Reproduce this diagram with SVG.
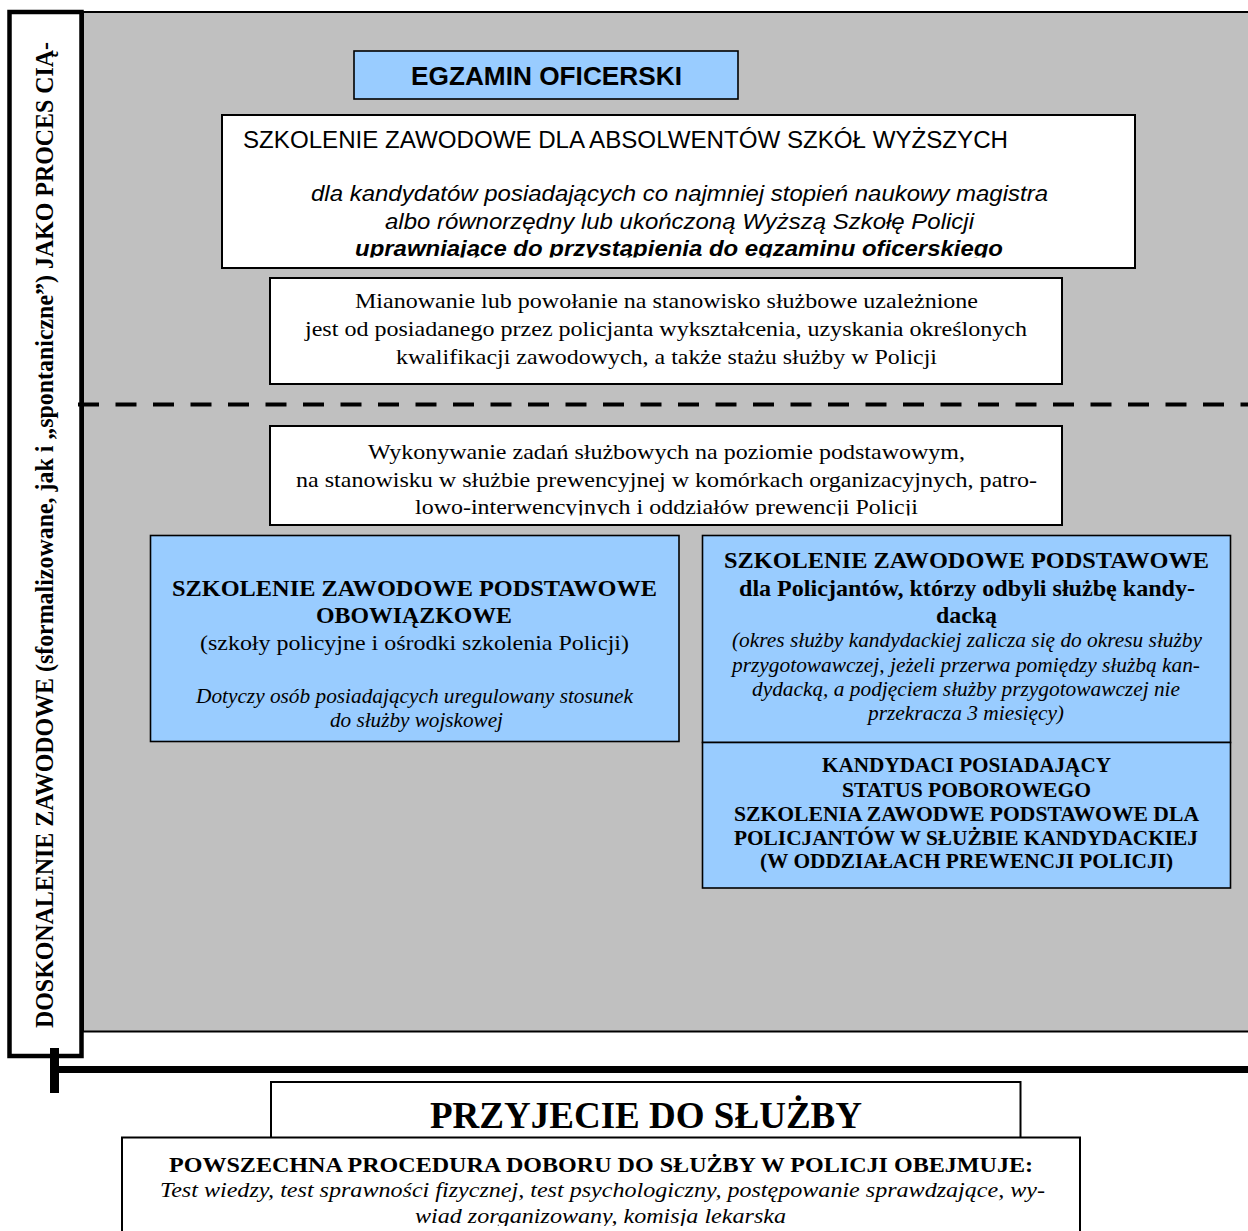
<svg xmlns="http://www.w3.org/2000/svg" width="1248" height="1231" viewBox="0 0 1248 1231">
<style>
.ar{font-family:"Liberation Sans",Arial,sans-serif;fill:#000}
.tm{font-family:"Liberation Serif","Times New Roman",serif;fill:#000}
.b{font-weight:bold}
.i{font-style:italic}
.wbox{fill:#fff;stroke:#000;stroke-width:2}
.bbox{fill:#99CCFF;stroke:#000;stroke-width:1.6}
.c{text-anchor:middle}
</style>
<defs>
<clipPath id="clipTop"><rect x="222" y="115" width="913" height="142.5"/></clipPath>
<clipPath id="clipWyk"><rect x="270" y="426" width="792" height="89.5"/></clipPath>
<clipPath id="clipLow"><rect x="122" y="1137" width="958" height="89"/></clipPath>
</defs>
<rect width="1248" height="1231" fill="#fff"/>
<g id="background">
<rect x="83" y="12" width="1175" height="1019.5" fill="#C0C0C0" stroke="#000" stroke-width="2"/>
</g>
<g id="vertical-label">
<rect x="9.5" y="12" width="72" height="1044" fill="#fff" stroke="#000" stroke-width="4.5"/>
<text class="tm b" font-size="24.5" transform="translate(53,1028) rotate(-90)" textLength="986" lengthAdjust="spacingAndGlyphs">DOSKONALENIE ZAWODOWE (sformalizowane, jak i „spontaniczne”) JAKO PROCES CIĄ-</text>
</g>
<g id="connectors">
<line x1="78" y1="404.5" x2="1248" y2="404.5" stroke="#000" stroke-width="4" stroke-dasharray="21 16.5"/>
<line x1="54.5" y1="1048" x2="54.5" y2="1093" stroke="#000" stroke-width="9"/>
<line x1="55" y1="1069.5" x2="1248" y2="1069.5" stroke="#000" stroke-width="7"/>
</g>
<g id="egzamin">
<rect class="bbox" x="354" y="51" width="384" height="48"/>
<text class="ar b c" font-size="25.5" x="546.5" y="85" textLength="271" lengthAdjust="spacingAndGlyphs">EGZAMIN OFICERSKI</text>
</g>
<g id="szkolenie-absolwenci">
<rect class="wbox" x="222" y="115" width="913" height="153"/>
<text class="ar" font-size="23" x="243" y="148" textLength="765" lengthAdjust="spacingAndGlyphs">SZKOLENIE ZAWODOWE DLA ABSOLWENTÓW SZKÓŁ WYŻSZYCH</text>
<text class="ar i c" font-size="22.5" x="679.5" y="201" textLength="737" lengthAdjust="spacingAndGlyphs">dla kandydatów posiadających co najmniej stopień naukowy magistra</text>
<text class="ar i c" font-size="22.5" x="679.5" y="229" textLength="589" lengthAdjust="spacingAndGlyphs">albo równorzędny lub ukończoną Wyższą Szkołę Policji</text>
<g clip-path="url(#clipTop)">
<text class="ar b i c" font-size="22.5" x="679" y="256" textLength="648" lengthAdjust="spacingAndGlyphs">uprawniające do przystąpienia do egzaminu oficerskiego</text>
</g>
</g>
<g id="mianowanie">
<rect class="wbox" x="270" y="278" width="792" height="106"/>
<text class="tm c" font-size="22" x="666.5" y="308" textLength="623" lengthAdjust="spacingAndGlyphs">Mianowanie lub powołanie na stanowisko służbowe uzależnione</text>
<text class="tm c" font-size="22" x="666" y="336" textLength="722" lengthAdjust="spacingAndGlyphs">jest od posiadanego przez policjanta wykształcenia, uzyskania określonych</text>
<text class="tm c" font-size="22" x="666.5" y="364" textLength="541" lengthAdjust="spacingAndGlyphs">kwalifikacji zawodowych, a także stażu służby w Policji</text>
</g>
<g id="wykonywanie">
<rect class="wbox" x="270" y="426" width="792" height="99"/>
<text class="tm c" font-size="22" x="666.5" y="459" textLength="597" lengthAdjust="spacingAndGlyphs">Wykonywanie zadań służbowych na poziomie podstawowym,</text>
<text class="tm c" font-size="22" x="666.5" y="487" textLength="741" lengthAdjust="spacingAndGlyphs">na stanowisku w służbie prewencyjnej w komórkach organizacyjnych, patro-</text>
<g clip-path="url(#clipWyk)">
<text class="tm c" font-size="22" x="666.5" y="514" textLength="503" lengthAdjust="spacingAndGlyphs">lowo-interwencyjnych i oddziałów prewencji Policji</text>
</g>
</g>
<g id="szkolenie-obowiazkowe">
<rect class="bbox" x="150.5" y="535.5" width="528.5" height="206"/>
<text class="tm b c" font-size="23" x="414.5" y="596" textLength="485" lengthAdjust="spacingAndGlyphs">SZKOLENIE ZAWODOWE PODSTAWOWE</text>
<text class="tm b c" font-size="23" x="414" y="623" textLength="196" lengthAdjust="spacingAndGlyphs">OBOWIĄZKOWE</text>
<text class="tm c" font-size="22" x="414.5" y="650" textLength="429" lengthAdjust="spacingAndGlyphs">(szkoły policyjne i ośrodki szkolenia Policji)</text>
<text class="tm i c" font-size="20" x="414.5" y="703" textLength="437" lengthAdjust="spacingAndGlyphs">Dotyczy osób posiadających uregulowany stosunek</text>
<text class="tm i c" font-size="20" x="416.5" y="727" textLength="173" lengthAdjust="spacingAndGlyphs">do służby wojskowej</text>
</g>
<g id="szkolenie-kandydacka">
<rect class="bbox" x="702.5" y="535.5" width="528" height="207"/>
<text class="tm b c" font-size="23" x="966.5" y="568" textLength="485" lengthAdjust="spacingAndGlyphs">SZKOLENIE ZAWODOWE PODSTAWOWE</text>
<text class="tm b c" font-size="23" x="967" y="596" textLength="456" lengthAdjust="spacingAndGlyphs">dla Policjantów, którzy odbyli służbę kandy-</text>
<text class="tm b c" font-size="23" x="966.5" y="623" textLength="61" lengthAdjust="spacingAndGlyphs">dacką</text>
<text class="tm i c" font-size="20.5" x="967" y="647" textLength="470" lengthAdjust="spacingAndGlyphs">(okres służby kandydackiej zalicza się do okresu służby</text>
<text class="tm i c" font-size="20.5" x="966" y="672" textLength="468" lengthAdjust="spacingAndGlyphs">przygotowawczej, jeżeli przerwa pomiędzy służbą kan-</text>
<text class="tm i c" font-size="20.5" x="966" y="696" textLength="428" lengthAdjust="spacingAndGlyphs">dydacką, a podjęciem służby przygotowawczej nie</text>
<text class="tm i c" font-size="20.5" x="966" y="720" textLength="196" lengthAdjust="spacingAndGlyphs">przekracza 3 miesięcy)</text>
</g>
<g id="kandydaci-poborowi">
<rect class="bbox" x="702.5" y="742.5" width="528" height="145.5"/>
<text class="tm b c" font-size="20" x="966.5" y="772" textLength="289" lengthAdjust="spacingAndGlyphs">KANDYDACI POSIADAJĄCY</text>
<text class="tm b c" font-size="20" x="966.5" y="797" textLength="249" lengthAdjust="spacingAndGlyphs">STATUS POBOROWEGO</text>
<text class="tm b c" font-size="20" x="966.5" y="821" textLength="465" lengthAdjust="spacingAndGlyphs">SZKOLENIA ZAWODWE PODSTAWOWE DLA</text>
<text class="tm b c" font-size="20" x="966" y="845" textLength="464" lengthAdjust="spacingAndGlyphs">POLICJANTÓW W SŁUŻBIE KANDYDACKIEJ</text>
<text class="tm b c" font-size="20" x="966.5" y="868" textLength="413" lengthAdjust="spacingAndGlyphs">(W ODDZIAŁACH PREWENCJI POLICJI)</text>
</g>
<g id="przyjecie">
<rect class="wbox" x="271" y="1082" width="749.5" height="70"/>
<text class="tm b c" font-size="38" x="646" y="1128" textLength="432" lengthAdjust="spacingAndGlyphs">PRZYJECIE DO SŁUŻBY</text>
</g>
<g id="procedura">
<rect class="wbox" x="122" y="1137.5" width="958" height="110"/>
<text class="tm b c" font-size="22" x="601" y="1172" textLength="864" lengthAdjust="spacingAndGlyphs">POWSZECHNA PROCEDURA DOBORU DO SŁUŻBY W POLICJI OBEJMUJE:</text>
<text class="tm i c" font-size="22" x="602.5" y="1197" textLength="885" lengthAdjust="spacingAndGlyphs">Test wiedzy, test sprawności fizycznej, test psychologiczny, postępowanie sprawdzające, wy-</text>
<g clip-path="url(#clipLow)">
<text class="tm i c" font-size="22" x="600.5" y="1223" textLength="371" lengthAdjust="spacingAndGlyphs">wiad zorganizowany, komisja lekarska</text>
</g>
</g>
</svg>
